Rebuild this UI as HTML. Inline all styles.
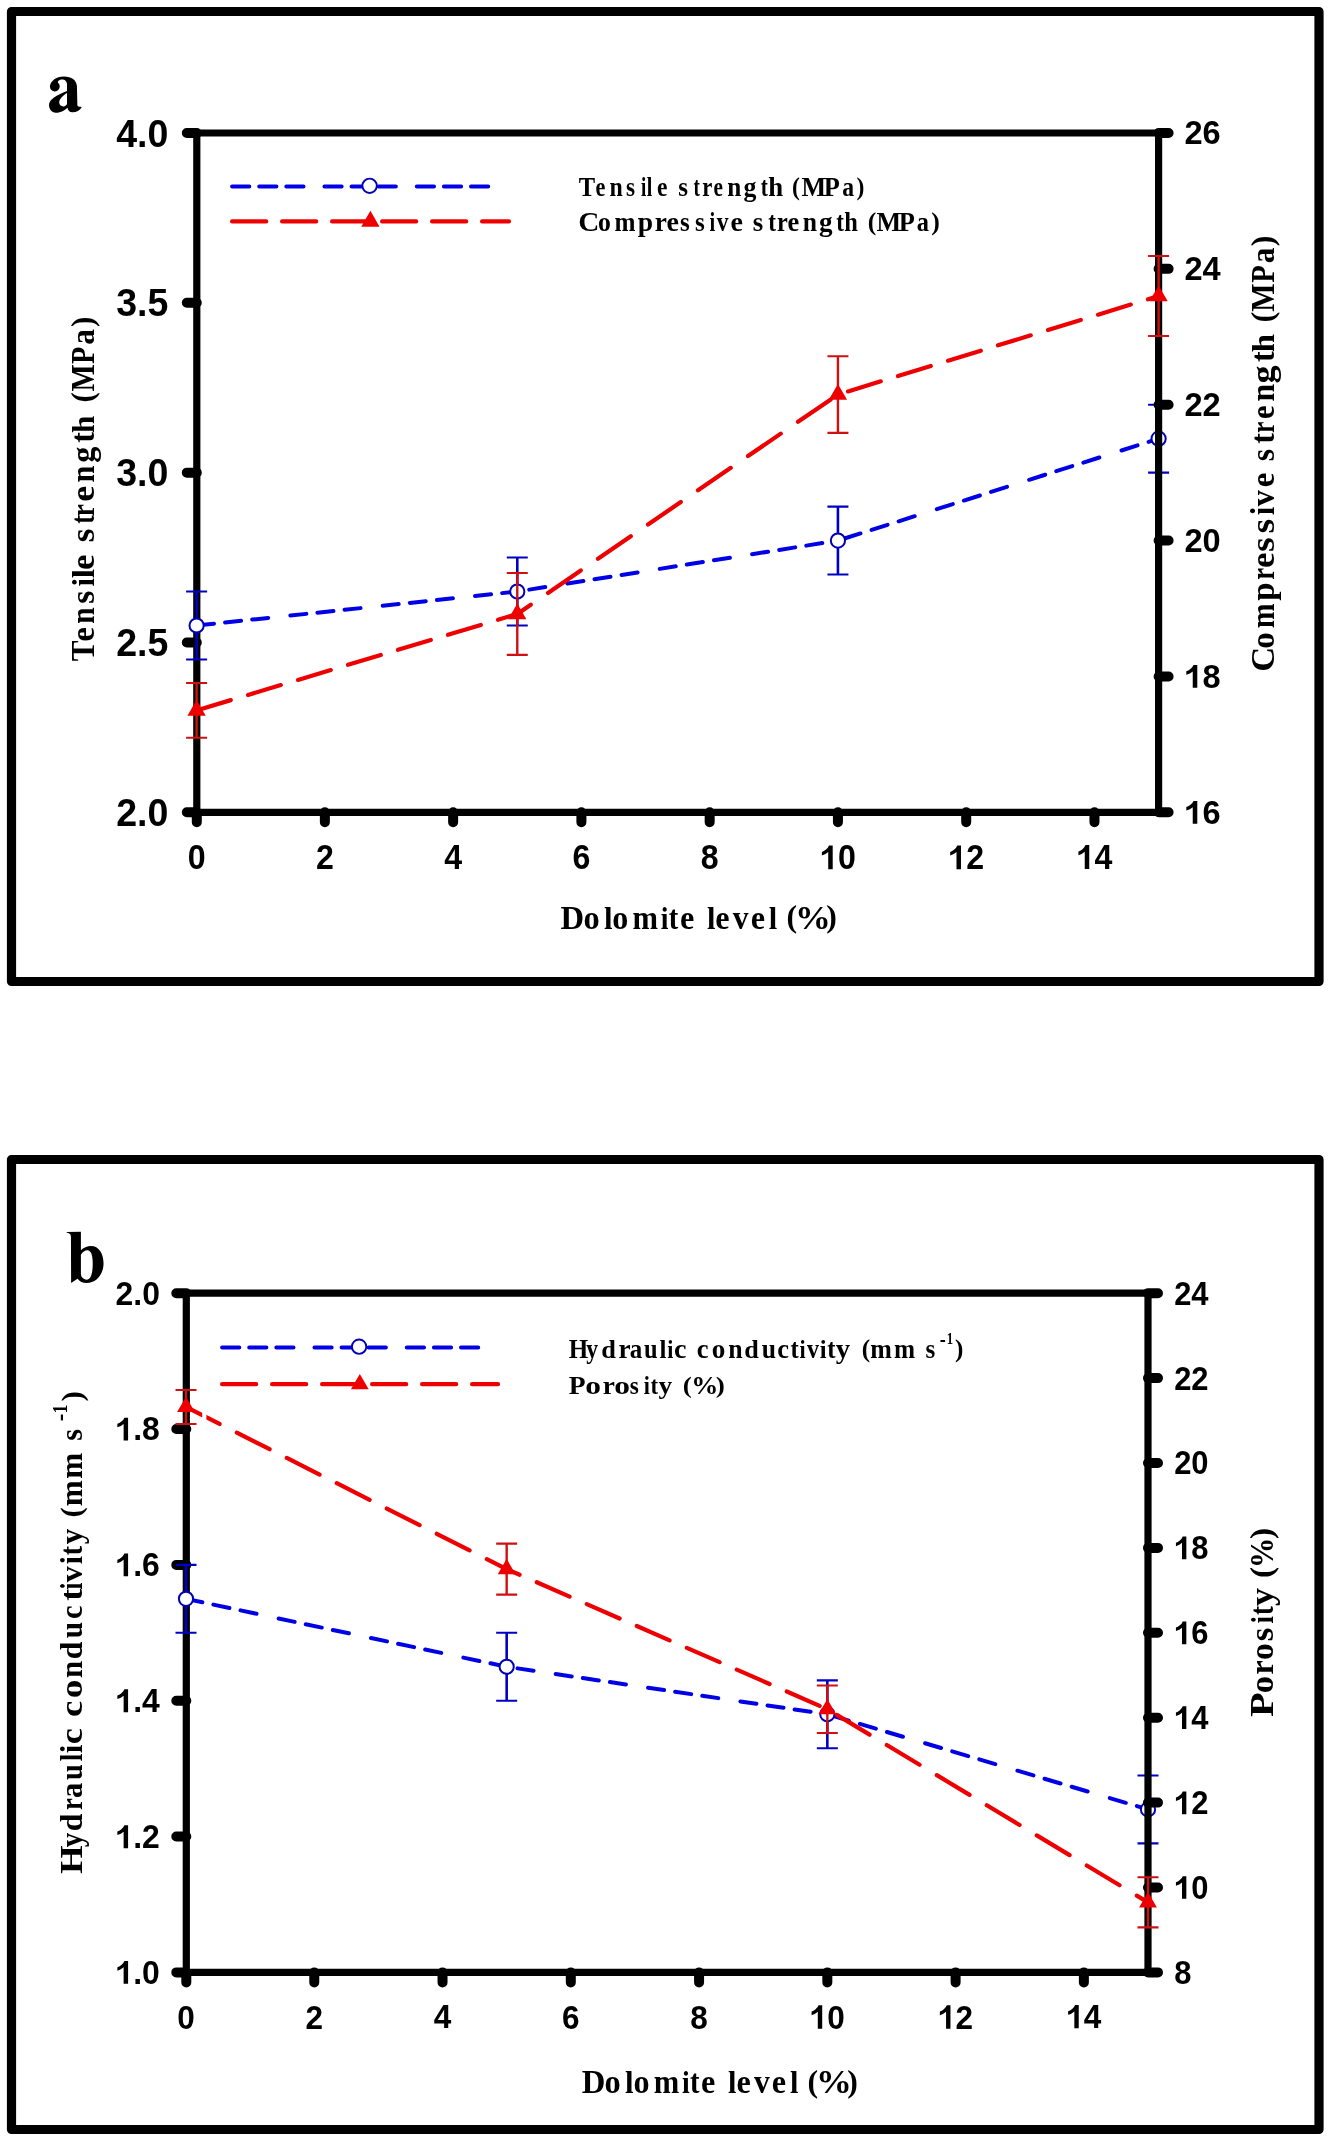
<!DOCTYPE html>
<html><head><meta charset="utf-8"><title>Figure</title>
<style>html,body{margin:0;padding:0;background:#fff;}svg{display:block;will-change:transform;}</style>
</head><body>
<svg width="1332" height="2138" viewBox="0 0 1332 2138">
<rect width="1332" height="2138" fill="#fff"/>
<path d="M11.5,11.5H1319V981.5H11.5Z" fill="none" stroke="#000" stroke-width="9.2" stroke-linejoin="round"/>
<path transform="translate(46,74) scale(0.03003)" fill-rule="evenodd" d="M130 420C140 250 330 85 600 85C850 85 1010 200 1030 400L1045 1050C1080 1110 1150 1080 1190 1105C1120 1220 1000 1280 880 1275C780 1270 730 1200 715 1120C620 1220 450 1290 330 1290C180 1290 100 1150 100 1030C100 850 350 700 700 565L700 340C690 220 600 180 530 185C450 190 380 240 400 290C450 330 470 400 450 460C420 560 330 590 280 580C180 570 130 500 130 420ZM700 630C550 720 430 850 440 960C450 1060 550 1100 620 1070C660 1050 700 1020 700 990Z"/>
<path d="M196.8,133H1158.6M196.8,812.3H1158.6M196.8,129.4V815.9" fill="none" stroke="#000" stroke-width="7.2"/>
<path d="M186.8,812.30H196.8M186.8,642.47H196.8M186.8,472.65H196.8M186.8,302.82H196.8M186.8,133.00H196.8M196.80,812.3V822.3M324.87,812.3V822.3M453.13,812.3V822.3M581.40,812.3V822.3M709.67,812.3V822.3M837.93,812.3V822.3M966.20,812.3V822.3M1094.47,812.3V822.3" fill="none" stroke="#000" stroke-width="10" stroke-linecap="round"/>
<path d="M198.00,625.34L214.00,623.65M225.10,622.47L241.10,620.78M252.20,619.60L268.20,617.91M290.35,615.56L306.35,613.87M317.45,612.69L333.45,611.00M344.55,609.82L360.55,608.13M382.70,605.78L398.70,604.09M409.80,602.91L425.80,601.22M436.90,600.04L452.90,598.35M475.05,596.00L491.05,594.30M502.15,593.13L517.27,591.53M517.27,591.53L518.15,591.39M529.25,589.62L545.25,587.08M567.40,583.56L583.40,581.02M594.50,579.26L610.50,576.71M621.60,574.95L637.60,572.41M659.75,568.89L675.75,566.35M686.85,564.58L702.85,562.04M713.95,560.28L729.95,557.74M752.10,554.22L768.10,551.68M779.20,549.91L795.20,547.37M806.30,545.61L822.30,543.06M844.45,538.51L860.45,533.43M871.55,529.90L887.55,524.81M898.65,521.29L914.65,516.20M936.80,509.16L952.80,504.08M963.90,500.55L979.90,495.47M991.00,491.94L1007.00,486.86M1029.15,479.82L1045.15,474.73M1056.25,471.21L1072.25,466.12M1083.35,462.60L1099.35,457.51M1121.50,450.47L1137.50,445.39M1148.60,441.86L1158.60,438.68" fill="none" stroke="#0000e6" stroke-width="4.0" stroke-linecap="round"/>
<path d="M196.60,591.53V659.46" stroke="#0000c4" stroke-width="2.6" fill="none"/>
<path d="M186.10,591.53H207.10M186.10,659.46H207.10" stroke="#0000c4" stroke-width="2.1" fill="none"/>
<path d="M517.27,557.56V625.49" stroke="#0000c4" stroke-width="2.6" fill="none"/>
<path d="M506.77,557.56H527.77M506.77,625.49H527.77" stroke="#0000c4" stroke-width="2.1" fill="none"/>
<path d="M837.93,506.62V574.55" stroke="#0000c4" stroke-width="2.6" fill="none"/>
<path d="M827.43,506.62H848.43M827.43,574.55H848.43" stroke="#0000c4" stroke-width="2.1" fill="none"/>
<path d="M1158.60,404.72V472.65" stroke="#0000c4" stroke-width="2.6" fill="none"/>
<path d="M1148.10,404.72H1169.10M1148.10,472.65H1169.10" stroke="#0000c4" stroke-width="2.1" fill="none"/>
<circle cx="196.60" cy="625.49" r="7.1" fill="#fff" stroke="#0000b4" stroke-width="2"/>
<circle cx="517.27" cy="591.53" r="7.1" fill="#fff" stroke="#0000b4" stroke-width="2"/>
<circle cx="837.93" cy="540.58" r="7.1" fill="#fff" stroke="#0000b4" stroke-width="2"/>
<circle cx="1158.60" cy="438.68" r="7.1" fill="#fff" stroke="#0000b4" stroke-width="2"/>
<path d="M1158.6,129.4V815.9" fill="none" stroke="#000" stroke-width="7.2"/>
<path d="M1158.6,812.30H1168.6M1158.6,676.44H1168.6M1158.6,540.58H1168.6M1158.6,404.72H1168.6M1158.6,268.86H1168.6M1158.6,133.00H1168.6" fill="none" stroke="#000" stroke-width="10" stroke-linecap="round"/>
<path d="M198.00,709.98L230.80,700.12M248.00,694.94L280.80,685.08M298.00,679.90L330.80,670.04M348.00,664.86L380.80,655.00M398.00,649.82L430.80,639.95M448.00,634.78L480.80,624.91M498.00,619.74L517.27,613.94M517.27,613.94L530.80,604.68M548.00,592.92L580.80,570.47M598.00,558.70L630.80,536.26M648.00,524.49L680.80,502.05M698.00,490.28L730.80,467.84M748.00,456.07L780.80,433.62M798.00,421.85L830.80,399.41M848.00,391.44L880.80,381.36M898.00,376.08L930.80,366.00M948.00,360.72L980.80,350.65M998.00,345.36L1030.80,335.29M1048.00,330.00L1080.80,319.93M1098.00,314.65L1130.80,304.57M1148.00,299.29L1158.60,296.03" fill="none" stroke="#ee0000" stroke-width="4.2" stroke-linecap="round"/>
<path d="M196.60,683.03V737.78" stroke="#d01010" stroke-width="2.4" fill="none"/>
<path d="M186.10,683.03H207.10M186.10,737.78H207.10" stroke="#d01010" stroke-width="2.1" fill="none"/>
<path d="M517.27,573.05V654.84" stroke="#d01010" stroke-width="2.4" fill="none"/>
<path d="M506.77,573.05H527.77M506.77,654.84H527.77" stroke="#d01010" stroke-width="2.1" fill="none"/>
<path d="M837.93,356.22V432.84" stroke="#d01010" stroke-width="2.4" fill="none"/>
<path d="M827.43,356.22H848.43M827.43,432.84H848.43" stroke="#d01010" stroke-width="2.1" fill="none"/>
<path d="M1158.60,256.02V336.04" stroke="#d01010" stroke-width="2.4" fill="none"/>
<path d="M1148.10,256.02H1169.10M1148.10,336.04H1169.10" stroke="#d01010" stroke-width="2.1" fill="none"/>
<path d="M196.60,699.87L205.75,715.67L187.45,715.67Z" fill="#ee0000"/>
<path d="M517.27,603.41L526.42,619.21L508.12,619.21Z" fill="#ee0000"/>
<path d="M837.93,384.00L847.08,399.80L828.78,399.80Z" fill="#ee0000"/>
<path d="M1158.60,285.50L1167.75,301.30L1149.45,301.30Z" fill="#ee0000"/>
<path d="M232.10,186.60L249.30,186.60M259.20,186.60L276.40,186.60M286.30,186.60L303.50,186.60M324.45,186.60L341.65,186.60M351.55,186.60L368.75,186.60M378.65,186.60L395.85,186.60M416.80,186.60L434.00,186.60M443.90,186.60L461.10,186.60M471.00,186.60L488.20,186.60" fill="none" stroke="#0000e6" stroke-width="4.0" stroke-linecap="round"/>
<circle cx="369.6" cy="185.79999999999998" r="7.2" fill="#fff" stroke="#0000b4" stroke-width="1.9"/>
<path d="M232.10,221.40L266.20,221.40M282.10,221.40L316.20,221.40M332.10,221.40L366.20,221.40M382.10,221.40L416.20,221.40M432.10,221.40L466.20,221.40M482.10,221.40L509.00,221.40" fill="none" stroke="#ee0000" stroke-width="4.2" stroke-linecap="round"/>
<path d="M370.40,210.87L379.55,226.67L361.25,226.67Z" fill="#ee0000"/>
<g font-family='"Liberation Sans", sans-serif' font-weight="bold" fill="#000">
<text transform="translate(116.14,825.86) scale(0.9550,1)" font-size="39.30">2.0</text>
<text transform="translate(116.14,656.03) scale(0.9550,1)" font-size="39.30">2.5</text>
<text transform="translate(116.14,486.21) scale(0.9550,1)" font-size="39.30">3.0</text>
<text transform="translate(116.14,316.38) scale(0.9550,1)" font-size="39.30">3.5</text>
<text transform="translate(116.14,146.56) scale(0.9550,1)" font-size="39.30">4.0</text>
<path transform="translate(1184.46,823.67) scale(0.01592,-0.01609)" d="M806 0L520 0L520 1021Q365 882 117 815L117 1030Q235 1067 375 1170Q515 1273 570 1413L806 1413Z"/><text transform="translate(1184.46,823.67) scale(0.9890,1)" font-size="32.96" x="18.33" y="0">6</text>
<path transform="translate(1184.46,687.81) scale(0.01592,-0.01609)" d="M806 0L520 0L520 1021Q365 882 117 815L117 1030Q235 1067 375 1170Q515 1273 570 1413L806 1413Z"/><text transform="translate(1184.46,687.81) scale(0.9890,1)" font-size="32.96" x="18.33" y="0">8</text>
<text transform="translate(1184.46,551.95) scale(0.9890,1)" font-size="32.96">20</text>
<text transform="translate(1184.46,416.26) scale(0.9890,1)" font-size="32.96">22</text>
<text transform="translate(1184.46,280.40) scale(0.9890,1)" font-size="32.96">24</text>
<text transform="translate(1184.46,144.37) scale(0.9890,1)" font-size="32.96">26</text>
<text transform="translate(187.67,869.24) scale(0.9311,1)" font-size="34.49">0</text>
<text transform="translate(315.94,869.24) scale(0.9311,1)" font-size="34.49">2</text>
<text transform="translate(444.20,868.90) scale(0.9311,1)" font-size="34.49">4</text>
<text transform="translate(572.47,869.24) scale(0.9311,1)" font-size="34.49">6</text>
<text transform="translate(700.74,869.24) scale(0.9311,1)" font-size="34.49">8</text>
<path transform="translate(820.07,869.24) scale(0.01568,-0.01684)" d="M806 0L520 0L520 1021Q365 882 117 815L117 1030Q235 1067 375 1170Q515 1273 570 1413L806 1413Z"/><text transform="translate(820.07,869.24) scale(0.9311,1)" font-size="34.49" x="19.18" y="0">0</text>
<path transform="translate(948.34,869.24) scale(0.01568,-0.01684)" d="M806 0L520 0L520 1021Q365 882 117 815L117 1030Q235 1067 375 1170Q515 1273 570 1413L806 1413Z"/><text transform="translate(948.34,869.24) scale(0.9311,1)" font-size="34.49" x="19.18" y="0">2</text>
<path transform="translate(1076.60,868.90) scale(0.01568,-0.01684)" d="M806 0L520 0L520 1021Q365 882 117 815L117 1030Q235 1067 375 1170Q515 1273 570 1413L806 1413Z"/><text transform="translate(1076.60,868.90) scale(0.9311,1)" font-size="34.49" x="19.18" y="0">4</text>
</g>
<g font-family='"Liberation Serif", serif' font-weight="bold" font-size="27.48"><text transform="translate(578.83,195.80) scale(0.8940,1.0000)">T</text><text transform="translate(595.62,195.80) scale(0.8128,1.0000)">e</text><text transform="translate(609.50,195.80) scale(0.8691,1.0000)">n</text><text transform="translate(626.00,195.80) scale(0.8473,1.0000)">s</text><text transform="translate(641.10,195.80) scale(0.6895,0.9707)">i</text><text transform="translate(646.70,195.80) scale(0.7278,0.9613)">l</text><text transform="translate(657.07,195.80) scale(0.8601,1.0000)">e</text><text transform="translate(678.15,195.80) scale(0.9124,1.0000)">s</text><text transform="translate(693.61,195.80) scale(0.6931,1.0000)">t</text><text transform="translate(702.33,195.80) scale(0.8291,1.0000)">r</text><text transform="translate(713.55,195.80) scale(0.7750,1.0000)">e</text><text transform="translate(727.37,195.80) scale(0.9186,1.0000)">n</text><text transform="translate(743.55,195.80) scale(0.9391,1.0000)">g</text><text transform="translate(760.68,195.80) scale(0.7740,1.0000)">t</text><text transform="translate(768.23,195.80) scale(0.9751,0.9613)">h</text><text transform="translate(792.11,194.69) scale(0.8619,0.9278)">(</text><text transform="translate(801.61,195.80) scale(0.9502,1.0000)">M</text><text transform="translate(823.80,195.80) scale(0.9596,1.0000)">P</text><text transform="translate(842.19,195.80) scale(0.8637,1.0000)">a</text><text transform="translate(856.41,194.76) scale(0.8619,0.9381)">)</text></g>
<g font-family='"Liberation Serif", serif' font-weight="bold" font-size="27.48"><text transform="translate(578.34,230.80) scale(1.0641,1.0000)">C</text><text transform="translate(597.97,230.80) scale(0.9357,1.0000)">o</text><text transform="translate(614.57,230.80) scale(0.9166,1.0000)">m</text><text transform="translate(637.69,230.80) scale(1.0043,1.0000)">p</text><text transform="translate(654.82,230.80) scale(0.9949,1.0000)">r</text><text transform="translate(666.52,230.80) scale(1.0208,1.0000)">e</text><text transform="translate(679.95,230.80) scale(0.9124,1.0000)">s</text><text transform="translate(694.95,230.80) scale(0.9124,1.0000)">s</text><text transform="translate(709.62,230.80) scale(0.7474,0.9707)">i</text><text transform="translate(716.70,230.80) scale(0.8515,1.0000)">v</text><text transform="translate(730.42,230.80) scale(1.0208,1.0000)">e</text><text transform="translate(752.79,230.80) scale(0.9776,1.0000)">s</text><text transform="translate(768.25,230.80) scale(0.8433,1.0000)">t</text><text transform="translate(777.09,230.80) scale(0.8844,1.0000)">r</text><text transform="translate(787.57,230.80) scale(0.9641,1.0000)">e</text><text transform="translate(802.86,230.80) scale(0.9327,1.0000)">n</text><text transform="translate(819.02,230.80) scale(0.9860,1.0000)">g</text><text transform="translate(836.16,230.80) scale(0.8317,1.0000)">t</text><text transform="translate(844.29,230.80) scale(0.8903,0.9613)">h</text><text transform="translate(867.77,229.69) scale(0.9342,0.9278)">(</text><text transform="translate(876.61,230.80) scale(0.9502,1.0000)">M</text><text transform="translate(898.80,230.80) scale(0.9596,1.0000)">P</text><text transform="translate(916.87,230.80) scale(0.8877,1.0000)">a</text><text transform="translate(931.14,229.76) scale(0.9342,0.9381)">)</text></g>
<g font-family='"Liberation Serif", serif' font-weight="bold" font-size="33.28"><text transform="translate(560.55,928.60) scale(0.9817,1.0000)">D</text><text transform="translate(583.50,928.60) scale(0.9729,1.0000)">o</text><text transform="translate(603.88,928.60) scale(0.9264,0.9613)">l</text><text transform="translate(612.31,928.60) scale(0.9658,1.0000)">o</text><text transform="translate(632.53,928.60) scale(0.9204,1.0000)">m</text><text transform="translate(660.84,928.60) scale(0.8339,0.9707)">i</text><text transform="translate(668.87,928.60) scale(0.8585,1.0000)">t</text><text transform="translate(679.97,928.60) scale(0.9677,1.0000)">e</text><text transform="translate(706.89,928.60) scale(0.9139,0.9613)">l</text><text transform="translate(715.37,928.60) scale(0.9677,1.0000)">e</text><text transform="translate(732.80,928.60) scale(0.9494,1.0000)">v</text><text transform="translate(750.77,928.60) scale(0.9677,1.0000)">e</text><text transform="translate(768.79,928.60) scale(0.9139,0.9613)">l</text><text transform="translate(786.40,927.26) scale(0.9576,0.9278)">(</text><text transform="translate(794.93,928.60) scale(1.0779,1.0000)">%</text><text transform="translate(826.25,927.34) scale(0.9576,0.9381)">)</text></g>
<g font-family='"Liberation Serif", serif' font-weight="bold" font-size="33.28"><text transform="translate(94.00,661.27) rotate(-90) scale(0.9369,1.0000)">T</text><text transform="translate(94.00,641.85) rotate(-90) scale(0.9911,1.0000)">e</text><text transform="translate(94.00,623.74) rotate(-90) scale(0.8868,1.0000)">n</text><text transform="translate(94.00,603.81) rotate(-90) scale(1.0135,1.0000)">s</text><text transform="translate(94.00,586.61) rotate(-90) scale(0.9198,0.9707)">i</text><text transform="translate(94.00,578.17) rotate(-90) scale(1.0015,0.9613)">l</text><text transform="translate(94.00,570.02) rotate(-90) scale(1.0458,1.0000)">e</text><text transform="translate(94.00,542.16) rotate(-90) scale(1.0583,1.0000)">s</text><text transform="translate(94.00,523.78) rotate(-90) scale(0.7631,1.0000)">t</text><text transform="translate(94.00,516.50) rotate(-90) scale(0.8367,1.0000)">r</text><text transform="translate(94.00,501.86) rotate(-90) scale(1.0848,1.0000)">e</text><text transform="translate(94.00,482.46) rotate(-90) scale(0.9101,1.0000)">n</text><text transform="translate(94.00,462.81) rotate(-90) scale(0.9692,1.0000)">g</text><text transform="translate(94.00,442.78) rotate(-90) scale(0.9634,1.0000)">t</text><text transform="translate(94.00,432.98) rotate(-90) scale(0.9335,0.9613)">h</text><text transform="translate(92.66,402.43) rotate(-90) scale(0.9373,0.9278)">(</text><text transform="translate(94.00,391.43) rotate(-90) scale(0.8680,1.0000)">M</text><text transform="translate(94.00,363.93) rotate(-90) scale(0.8562,1.0000)">P</text><text transform="translate(94.00,344.74) rotate(-90) scale(0.9377,1.0000)">a</text><text transform="translate(92.74,327.09) rotate(-90) scale(0.9373,0.9381)">)</text></g>
<g font-family='"Liberation Serif", serif' font-weight="bold" font-size="33.89"><text transform="translate(1274.20,671.83) rotate(-90) scale(1.0215,1.0000)">C</text><text transform="translate(1274.20,648.72) rotate(-90) scale(0.9765,1.0000)">o</text><text transform="translate(1274.20,628.35) rotate(-90) scale(0.8814,1.0000)">m</text><text transform="translate(1274.20,600.69) rotate(-90) scale(0.9677,1.0000)">p</text><text transform="translate(1274.20,579.87) rotate(-90) scale(0.7918,1.0000)">r</text><text transform="translate(1274.20,568.12) rotate(-90) scale(1.0269,1.0000)">e</text><text transform="translate(1274.20,552.03) rotate(-90) scale(1.1097,1.0000)">s</text><text transform="translate(1274.20,533.53) rotate(-90) scale(1.1097,1.0000)">s</text><text transform="translate(1274.20,515.31) rotate(-90) scale(0.9032,0.9707)">i</text><text transform="translate(1274.20,506.30) rotate(-90) scale(0.9441,1.0000)">v</text><text transform="translate(1274.20,487.25) rotate(-90) scale(0.9656,1.0000)">e</text><text transform="translate(1274.20,461.34) rotate(-90) scale(0.9248,1.0000)">s</text><text transform="translate(1274.20,443.68) rotate(-90) scale(0.9460,1.0000)">t</text><text transform="translate(1274.20,433.05) rotate(-90) scale(0.7561,1.0000)">r</text><text transform="translate(1274.20,418.97) rotate(-90) scale(0.9043,1.0000)">e</text><text transform="translate(1274.20,401.40) rotate(-90) scale(0.9396,1.0000)">n</text><text transform="translate(1274.20,383.40) rotate(-90) scale(1.0660,1.0000)">g</text><text transform="translate(1274.20,361.98) rotate(-90) scale(0.9460,1.0000)">t</text><text transform="translate(1274.20,352.22) rotate(-90) scale(0.9682,0.9613)">h</text><text transform="translate(1272.83,322.38) rotate(-90) scale(0.9451,0.9278)">(</text><text transform="translate(1274.20,311.85) rotate(-90) scale(0.8884,1.0000)">M</text><text transform="translate(1274.20,282.73) rotate(-90) scale(0.8460,1.0000)">P</text><text transform="translate(1274.20,263.24) rotate(-90) scale(0.9273,1.0000)">a</text><text transform="translate(1272.92,246.18) rotate(-90) scale(0.9451,0.9381)">)</text></g>
<path d="M11.5,1159.5H1319V2129.5H11.5Z" fill="none" stroke="#000" stroke-width="9.2" stroke-linejoin="round"/>
<path transform="translate(63,1228) scale(0.03378)" fill-rule="evenodd" d="M110 118L530 110L530 660C600 590 720 535 830 535C1060 535 1200 760 1200 1050C1200 1370 980 1630 700 1630C580 1630 490 1580 430 1500L240 1625L235 260C230 170 180 145 110 142ZM530 790C580 700 650 655 720 655C830 655 880 800 880 1060C880 1350 820 1530 700 1530C600 1530 530 1450 530 1350Z"/>
<path d="M186.3,1293.2H1148M186.3,1972.4H1148M186.3,1289.6000000000001V1976.0" fill="none" stroke="#000" stroke-width="7.2"/>
<path d="M176.3,1972.40H186.3M176.3,1836.56H186.3M176.3,1700.72H186.3M176.3,1564.88H186.3M176.3,1429.04H186.3M176.3,1293.20H186.3M186.30,1972.4V1982.4M314.27,1972.4V1982.4M442.53,1972.4V1982.4M570.80,1972.4V1982.4M699.07,1972.4V1982.4M827.33,1972.4V1982.4M955.60,1972.4V1982.4M1083.87,1972.4V1982.4" fill="none" stroke="#000" stroke-width="10" stroke-linecap="round"/>
<path d="M186.30,1598.90L202.30,1602.29M213.40,1604.64L229.40,1608.03M240.50,1610.38L256.50,1613.77M278.65,1618.46L294.65,1621.85M305.75,1624.20L321.75,1627.59M332.85,1629.94L348.85,1633.33M371.00,1638.02L387.00,1641.41M398.10,1643.76L414.10,1647.15M425.20,1649.50L441.20,1652.89M463.35,1657.59L479.35,1660.97M490.45,1663.33L506.45,1666.71M517.55,1668.37L533.55,1670.75M555.70,1674.03L571.70,1676.40M582.80,1678.05L598.80,1680.42M609.90,1682.07L625.90,1684.44M648.05,1687.72L664.05,1690.09M675.15,1691.74L691.15,1694.11M702.25,1695.76L718.25,1698.13M740.40,1701.41L756.40,1703.79M767.50,1705.43L783.50,1707.81M794.60,1709.45L810.60,1711.82M832.75,1715.91L848.75,1720.65M859.85,1723.95L875.85,1728.69M886.95,1731.98L902.95,1736.73M925.10,1743.29L941.10,1748.04M952.20,1751.33L968.20,1756.08M979.30,1759.37L995.30,1764.11M1017.45,1770.68L1033.45,1775.42M1044.55,1778.72L1060.55,1783.46M1071.65,1786.75L1087.65,1791.50M1109.80,1798.06L1125.80,1802.81M1136.90,1806.10L1148.00,1809.39" fill="none" stroke="#0000e6" stroke-width="4.0" stroke-linecap="round"/>
<path d="M186.00,1564.88V1632.80" stroke="#0000c4" stroke-width="2.6" fill="none"/>
<path d="M175.50,1564.88H196.50M175.50,1632.80H196.50" stroke="#0000c4" stroke-width="2.1" fill="none"/>
<path d="M506.67,1632.80V1700.72" stroke="#0000c4" stroke-width="2.6" fill="none"/>
<path d="M496.17,1632.80H517.17M496.17,1700.72H517.17" stroke="#0000c4" stroke-width="2.1" fill="none"/>
<path d="M827.33,1680.34V1748.26" stroke="#0000c4" stroke-width="2.6" fill="none"/>
<path d="M816.83,1680.34H837.83M816.83,1748.26H837.83" stroke="#0000c4" stroke-width="2.1" fill="none"/>
<path d="M1148.00,1775.43V1843.35" stroke="#0000c4" stroke-width="2.6" fill="none"/>
<path d="M1137.50,1775.43H1158.50M1137.50,1843.35H1158.50" stroke="#0000c4" stroke-width="2.1" fill="none"/>
<circle cx="186.00" cy="1598.84" r="7.1" fill="#fff" stroke="#0000b4" stroke-width="2"/>
<circle cx="506.67" cy="1666.76" r="7.1" fill="#fff" stroke="#0000b4" stroke-width="2"/>
<circle cx="827.33" cy="1714.30" r="7.1" fill="#fff" stroke="#0000b4" stroke-width="2"/>
<circle cx="1148.00" cy="1809.39" r="7.1" fill="#fff" stroke="#0000b4" stroke-width="2"/>
<path d="M1148,1289.6000000000001V1976.0" fill="none" stroke="#000" stroke-width="7.2"/>
<path d="M1148,1972.40H1158M1148,1887.50H1158M1148,1802.60H1158M1148,1717.70H1158M1148,1632.80H1158M1148,1547.90H1158M1148,1463.00H1158M1148,1378.10H1158M1148,1293.20H1158" fill="none" stroke="#000" stroke-width="10" stroke-linecap="round"/>
<path d="M186.80,1407.37L219.60,1423.96M236.80,1432.66L269.60,1449.24M286.80,1457.94L319.60,1474.53M336.80,1483.22L369.60,1499.81M386.80,1508.51L419.60,1525.10M436.80,1533.79L469.60,1550.38M486.80,1559.08L506.67,1569.12M506.67,1569.12L519.60,1574.77M536.80,1582.29L569.60,1596.62M586.80,1604.13L619.60,1618.46M636.80,1625.97L669.60,1640.30M686.80,1647.82L719.60,1662.15M736.80,1669.66L769.60,1683.99M786.80,1691.50L819.60,1705.83M836.80,1714.91L869.60,1734.67M886.80,1745.03L919.60,1764.79M936.80,1775.15L969.60,1794.90M986.80,1805.26L1019.60,1825.02M1036.80,1835.38L1069.60,1855.13M1086.80,1865.49L1119.60,1885.25M1136.80,1895.61L1148.00,1902.36" fill="none" stroke="#ee0000" stroke-width="4.2" stroke-linecap="round"/>
<path d="M186.00,1389.99V1423.95" stroke="#d01010" stroke-width="2.4" fill="none"/>
<path d="M175.50,1389.99H196.50M175.50,1423.95H196.50" stroke="#d01010" stroke-width="2.1" fill="none"/>
<path d="M506.67,1543.65V1594.60" stroke="#d01010" stroke-width="2.4" fill="none"/>
<path d="M496.17,1543.65H517.17M496.17,1594.60H517.17" stroke="#d01010" stroke-width="2.1" fill="none"/>
<path d="M827.33,1685.44V1732.98" stroke="#d01010" stroke-width="2.4" fill="none"/>
<path d="M816.83,1685.44H837.83M816.83,1732.98H837.83" stroke="#d01010" stroke-width="2.1" fill="none"/>
<path d="M1148.00,1877.31V1927.40" stroke="#d01010" stroke-width="2.4" fill="none"/>
<path d="M1137.50,1877.31H1158.50M1137.50,1927.40H1158.50" stroke="#d01010" stroke-width="2.1" fill="none"/>
<rect x="202.2" y="1411" width="4.2" height="10" fill="#fff"/>
<path d="M186.00,1396.70L194.90,1412.10L177.10,1412.10Z" fill="#ee0000"/>
<path d="M506.67,1558.86L515.57,1574.26L497.77,1574.26Z" fill="#ee0000"/>
<path d="M827.33,1698.94L836.23,1714.34L818.43,1714.34Z" fill="#ee0000"/>
<path d="M1148.00,1892.09L1156.90,1907.49L1139.10,1907.49Z" fill="#ee0000"/>
<path d="M222.10,1347.50L239.30,1347.50M249.20,1347.50L266.40,1347.50M276.30,1347.50L293.50,1347.50M314.45,1347.50L331.65,1347.50M341.55,1347.50L358.75,1347.50M368.65,1347.50L385.85,1347.50M406.80,1347.50L424.00,1347.50M433.90,1347.50L451.10,1347.50M461.00,1347.50L478.20,1347.50" fill="none" stroke="#0000e6" stroke-width="4.0" stroke-linecap="round"/>
<circle cx="359.1" cy="1346.7" r="7.2" fill="#fff" stroke="#0000b4" stroke-width="1.9"/>
<path d="M222.10,1384.20L256.20,1384.20M272.10,1384.20L306.20,1384.20M322.10,1384.20L356.20,1384.20M372.10,1384.20L406.20,1384.20M422.10,1384.20L456.20,1384.20M472.10,1384.20L498.00,1384.20" fill="none" stroke="#ee0000" stroke-width="4.2" stroke-linecap="round"/>
<path d="M359.80,1373.93L368.70,1389.33L350.90,1389.33Z" fill="#ee0000"/>
<g font-family='"Liberation Sans", sans-serif' font-weight="bold" fill="#000">
<path transform="translate(115.53,1983.82) scale(0.01557,-0.01616)" d="M806 0L520 0L520 1021Q365 882 117 815L117 1030Q235 1067 375 1170Q515 1273 570 1413L806 1413Z"/><text transform="translate(115.53,1983.82) scale(0.9635,1)" font-size="33.10" x="18.41 27.60" y="0">.0</text>
<path transform="translate(115.53,1848.14) scale(0.01557,-0.01616)" d="M806 0L520 0L520 1021Q365 882 117 815L117 1030Q235 1067 375 1170Q515 1273 570 1413L806 1413Z"/><text transform="translate(115.53,1848.14) scale(0.9635,1)" font-size="33.10" x="18.41 27.60" y="0">.2</text>
<path transform="translate(115.53,1712.14) scale(0.01557,-0.01616)" d="M806 0L520 0L520 1021Q365 882 117 815L117 1030Q235 1067 375 1170Q515 1273 570 1413L806 1413Z"/><text transform="translate(115.53,1712.14) scale(0.9635,1)" font-size="33.10" x="18.41 27.60" y="0">.4</text>
<path transform="translate(115.53,1576.30) scale(0.01557,-0.01616)" d="M806 0L520 0L520 1021Q365 882 117 815L117 1030Q235 1067 375 1170Q515 1273 570 1413L806 1413Z"/><text transform="translate(115.53,1576.30) scale(0.9635,1)" font-size="33.10" x="18.41 27.60" y="0">.6</text>
<path transform="translate(115.53,1440.46) scale(0.01557,-0.01616)" d="M806 0L520 0L520 1021Q365 882 117 815L117 1030Q235 1067 375 1170Q515 1273 570 1413L806 1413Z"/><text transform="translate(115.53,1440.46) scale(0.9635,1)" font-size="33.10" x="18.41 27.60" y="0">.8</text>
<text transform="translate(115.53,1304.62) scale(0.9635,1)" font-size="33.10">2.0</text>
<text transform="translate(1174.17,1983.77) scale(0.9378,1)" font-size="32.96">8</text>
<path transform="translate(1174.17,1898.87) scale(0.01509,-0.01609)" d="M806 0L520 0L520 1021Q365 882 117 815L117 1030Q235 1067 375 1170Q515 1273 570 1413L806 1413Z"/><text transform="translate(1174.17,1898.87) scale(0.9378,1)" font-size="32.96" x="18.33" y="0">0</text>
<path transform="translate(1174.17,1814.14) scale(0.01509,-0.01609)" d="M806 0L520 0L520 1021Q365 882 117 815L117 1030Q235 1067 375 1170Q515 1273 570 1413L806 1413Z"/><text transform="translate(1174.17,1814.14) scale(0.9378,1)" font-size="32.96" x="18.33" y="0">2</text>
<path transform="translate(1174.17,1729.07) scale(0.01509,-0.01609)" d="M806 0L520 0L520 1021Q365 882 117 815L117 1030Q235 1067 375 1170Q515 1273 570 1413L806 1413Z"/><text transform="translate(1174.17,1729.07) scale(0.9378,1)" font-size="32.96" x="18.33" y="0">4</text>
<path transform="translate(1174.17,1644.17) scale(0.01509,-0.01609)" d="M806 0L520 0L520 1021Q365 882 117 815L117 1030Q235 1067 375 1170Q515 1273 570 1413L806 1413Z"/><text transform="translate(1174.17,1644.17) scale(0.9378,1)" font-size="32.96" x="18.33" y="0">6</text>
<path transform="translate(1174.17,1559.27) scale(0.01509,-0.01609)" d="M806 0L520 0L520 1021Q365 882 117 815L117 1030Q235 1067 375 1170Q515 1273 570 1413L806 1413Z"/><text transform="translate(1174.17,1559.27) scale(0.9378,1)" font-size="32.96" x="18.33" y="0">8</text>
<text transform="translate(1174.17,1474.37) scale(0.9378,1)" font-size="32.96">20</text>
<text transform="translate(1174.17,1389.64) scale(0.9378,1)" font-size="32.96">22</text>
<text transform="translate(1174.17,1304.74) scale(0.9378,1)" font-size="32.96">24</text>
<text transform="translate(177.23,2028.64) scale(0.9300,1)" font-size="33.91">0</text>
<text transform="translate(305.50,2028.64) scale(0.9300,1)" font-size="33.91">2</text>
<text transform="translate(433.76,2028.30) scale(0.9300,1)" font-size="33.91">4</text>
<text transform="translate(562.03,2028.64) scale(0.9300,1)" font-size="33.91">6</text>
<text transform="translate(690.30,2028.64) scale(0.9300,1)" font-size="33.91">8</text>
<path transform="translate(809.79,2028.64) scale(0.01540,-0.01656)" d="M806 0L520 0L520 1021Q365 882 117 815L117 1030Q235 1067 375 1170Q515 1273 570 1413L806 1413Z"/><text transform="translate(809.79,2028.64) scale(0.9300,1)" font-size="33.91" x="18.86" y="0">0</text>
<path transform="translate(938.06,2028.64) scale(0.01540,-0.01656)" d="M806 0L520 0L520 1021Q365 882 117 815L117 1030Q235 1067 375 1170Q515 1273 570 1413L806 1413Z"/><text transform="translate(938.06,2028.64) scale(0.9300,1)" font-size="33.91" x="18.86" y="0">2</text>
<path transform="translate(1066.33,2028.30) scale(0.01540,-0.01656)" d="M806 0L520 0L520 1021Q365 882 117 815L117 1030Q235 1067 375 1170Q515 1273 570 1413L806 1413Z"/><text transform="translate(1066.33,2028.30) scale(0.9300,1)" font-size="33.91" x="18.86" y="0">4</text>
</g>
<g font-family='"Liberation Serif", serif' font-weight="bold" font-size="26.56"><text transform="translate(568.83,1358.40) scale(0.9398,1.0000)">H</text><text transform="translate(586.36,1358.40) scale(0.8940,1.0000)">y</text><text transform="translate(601.15,1358.40) scale(0.9914,0.9613)">d</text><text transform="translate(618.42,1358.40) scale(1.0292,1.0000)">r</text><text transform="translate(629.75,1358.40) scale(0.9432,1.0000)">a</text><text transform="translate(643.93,1358.40) scale(0.9210,1.0000)">u</text><text transform="translate(659.40,1358.40) scale(0.9411,0.9613)">l</text><text transform="translate(667.26,1358.40) scale(0.8297,0.9707)">i</text><text transform="translate(673.92,1358.40) scale(1.0560,1.0000)">c</text><text transform="translate(696.87,1358.40) scale(0.9973,1.0000)">c</text><text transform="translate(711.71,1358.40) scale(1.0218,1.0000)">o</text><text transform="translate(728.35,1358.40) scale(0.9722,1.0000)">n</text><text transform="translate(744.25,1358.40) scale(0.9840,0.9613)">d</text><text transform="translate(761.72,1358.40) scale(0.9648,1.0000)">u</text><text transform="translate(777.37,1358.40) scale(0.9973,1.0000)">c</text><text transform="translate(790.53,1358.40) scale(0.9321,1.0000)">t</text><text transform="translate(799.46,1358.40) scale(0.8297,0.9707)">i</text><text transform="translate(807.10,1358.40) scale(0.9034,1.0000)">v</text><text transform="translate(819.81,1358.40) scale(0.9219,0.9707)">i</text><text transform="translate(827.13,1358.40) scale(0.9321,1.0000)">t</text><text transform="translate(835.71,1358.40) scale(1.0823,1.0000)">y</text><text transform="translate(861.70,1357.33) scale(0.9485,0.9278)">(</text><text transform="translate(870.35,1358.40) scale(0.9768,1.0000)">m</text><text transform="translate(893.97,1358.40) scale(0.9530,1.0000)">m</text><text transform="translate(925.45,1358.40) scale(0.9439,1.0000)">s</text></g>
<g font-family='"Liberation Serif", serif' font-weight="bold" font-size="26.56"><text transform="translate(955.02,1357.39) scale(0.9485,0.9381)">)</text></g>
<text transform="translate(939.77,1346.86) scale(0.8087,1)" font-family='"Liberation Serif", serif' font-weight="bold" font-size="22.35">-</text>
<text transform="translate(946.68,1344.40) scale(0.7985,1)" font-family='"Liberation Serif", serif' font-weight="bold" font-size="15.91">1</text>
<g font-family='"Liberation Serif", serif' font-weight="bold" font-size="25.19"><text transform="translate(568.79,1393.90) scale(1.0961,1.0000)">P</text><text transform="translate(585.34,1393.90) scale(1.2476,1.0000)">o</text><text transform="translate(602.72,1393.90) scale(1.0854,1.0000)">r</text><text transform="translate(614.24,1393.90) scale(1.2476,1.0000)">o</text><text transform="translate(629.80,1393.90) scale(0.9243,1.0000)">s</text><text transform="translate(643.86,1393.90) scale(0.8750,0.9707)">i</text><text transform="translate(650.56,1393.90) scale(0.9074,1.0000)">t</text><text transform="translate(658.42,1393.90) scale(1.0917,1.0000)">y</text><text transform="translate(682.78,1392.88) scale(1.0854,0.9278)">(</text><text transform="translate(691.25,1393.90) scale(1.0768,1.0000)">%</text><text transform="translate(715.63,1392.95) scale(1.0854,0.9381)">)</text></g>
<g font-family='"Liberation Serif", serif' font-weight="bold" font-size="33.28"><text transform="translate(581.65,2093.20) scale(0.9817,1.0000)">D</text><text transform="translate(604.60,2093.20) scale(0.9729,1.0000)">o</text><text transform="translate(624.98,2093.20) scale(0.9264,0.9613)">l</text><text transform="translate(633.41,2093.20) scale(0.9658,1.0000)">o</text><text transform="translate(653.63,2093.20) scale(0.9204,1.0000)">m</text><text transform="translate(681.94,2093.20) scale(0.8339,0.9707)">i</text><text transform="translate(689.97,2093.20) scale(0.8585,1.0000)">t</text><text transform="translate(701.07,2093.20) scale(0.9677,1.0000)">e</text><text transform="translate(727.99,2093.20) scale(0.9139,0.9613)">l</text><text transform="translate(736.47,2093.20) scale(0.9677,1.0000)">e</text><text transform="translate(753.90,2093.20) scale(0.9494,1.0000)">v</text><text transform="translate(771.87,2093.20) scale(0.9677,1.0000)">e</text><text transform="translate(789.89,2093.20) scale(0.9139,0.9613)">l</text><text transform="translate(807.50,2091.86) scale(0.9576,0.9278)">(</text><text transform="translate(816.03,2093.20) scale(1.0779,1.0000)">%</text><text transform="translate(847.35,2091.94) scale(0.9576,0.9381)">)</text></g>
<g font-family='"Liberation Serif", serif' font-weight="bold" font-size="32.06"><text transform="translate(82.40,1873.95) rotate(-90) scale(1.1471,1.0000)">H</text><text transform="translate(82.40,1847.19) rotate(-90) scale(0.9032,1.0000)">y</text><text transform="translate(82.40,1831.27) rotate(-90) scale(0.9882,0.9613)">d</text><text transform="translate(82.40,1810.06) rotate(-90) scale(0.8291,1.0000)">r</text><text transform="translate(82.40,1798.12) rotate(-90) scale(0.9529,1.0000)">a</text><text transform="translate(82.40,1779.93) rotate(-90) scale(0.8903,1.0000)">u</text><text transform="translate(82.40,1761.16) rotate(-90) scale(0.8707,0.9613)">l</text><text transform="translate(82.40,1753.22) rotate(-90) scale(0.9675,0.9707)">i</text><text transform="translate(82.40,1744.16) rotate(-90) scale(1.1261,1.0000)">c</text><text transform="translate(82.40,1716.88) rotate(-90) scale(1.1423,1.0000)">c</text><text transform="translate(82.40,1698.21) rotate(-90) scale(1.1619,1.0000)">o</text><text transform="translate(82.40,1678.08) rotate(-90) scale(0.9690,1.0000)">n</text><text transform="translate(82.40,1659.27) rotate(-90) scale(0.9882,0.9613)">d</text><text transform="translate(82.40,1638.14) rotate(-90) scale(0.9145,1.0000)">u</text><text transform="translate(82.40,1619.07) rotate(-90) scale(0.9560,1.0000)">c</text><text transform="translate(82.40,1600.84) rotate(-90) scale(1.1288,1.0000)">t</text><text transform="translate(82.40,1589.49) rotate(-90) scale(0.7746,0.9707)">i</text><text transform="translate(82.40,1582.20) rotate(-90) scale(0.9981,1.0000)">v</text><text transform="translate(82.40,1564.29) rotate(-90) scale(0.9166,0.9707)">i</text><text transform="translate(82.40,1555.22) rotate(-90) scale(0.8714,1.0000)">t</text><text transform="translate(82.40,1544.31) rotate(-90) scale(0.9747,1.0000)">y</text><text transform="translate(81.11,1517.41) rotate(-90) scale(0.9683,0.9278)">(</text><text transform="translate(82.40,1506.28) rotate(-90) scale(0.9712,1.0000)">m</text><text transform="translate(82.40,1478.68) rotate(-90) scale(0.9712,1.0000)">m</text><text transform="translate(82.40,1440.80) rotate(-90) scale(0.9404,1.0000)">s</text></g>
<g font-family='"Liberation Serif", serif' font-weight="bold" font-size="32.06"><text transform="translate(81.99,1401.47) rotate(-90) scale(0.9683,0.9381)">)</text></g>
<text transform="translate(68.02,1421.29) rotate(-90) scale(0.9185,1)" font-family='"Liberation Serif", serif' font-weight="bold" font-size="24.71">-</text>
<text transform="translate(66.90,1413.55) rotate(-90) scale(0.8358,1)" font-family='"Liberation Serif", serif' font-weight="bold" font-size="21.67">1</text>
<g font-family='"Liberation Serif", serif' font-weight="bold" font-size="33.59"><text transform="translate(1273.20,1716.93) rotate(-90) scale(1.1994,1.0000)">P</text><text transform="translate(1273.20,1693.18) rotate(-90) scale(1.0279,1.0000)">o</text><text transform="translate(1273.20,1674.40) rotate(-90) scale(0.9572,1.0000)">r</text><text transform="translate(1273.20,1659.94) rotate(-90) scale(0.9995,1.0000)">o</text><text transform="translate(1273.20,1641.35) rotate(-90) scale(1.0398,1.0000)">s</text><text transform="translate(1273.20,1623.54) rotate(-90) scale(0.8020,0.9707)">i</text><text transform="translate(1273.20,1614.98) rotate(-90) scale(0.7996,1.0000)">t</text><text transform="translate(1273.20,1606.06) rotate(-90) scale(1.0731,1.0000)">y</text><text transform="translate(1271.85,1577.99) rotate(-90) scale(0.9995,0.9278)">(</text><text transform="translate(1273.20,1568.09) rotate(-90) scale(0.9043,1.0000)">%</text><text transform="translate(1271.93,1538.92) rotate(-90) scale(0.9995,0.9381)">)</text></g>
</svg>
</body></html>
